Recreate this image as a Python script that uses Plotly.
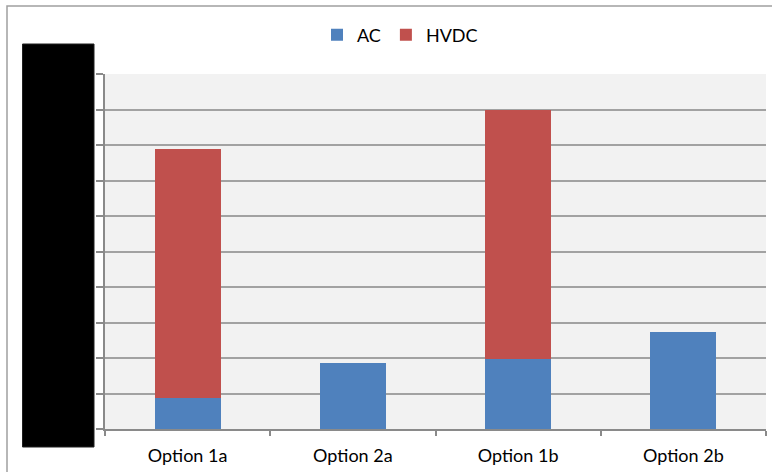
import plotly.graph_objects as go

# Network reinforcement options and their line lengths split by technology
options = ["Option 1a", "Option 2a", "Option 1b", "Option 2b"]
ac_values = [0.885, 1.86, 1.98, 2.73]
hvdc_values = [7.0, 0.0, 7.0, 0.0]

AC_COLOR = "#4F81BD"
HVDC_COLOR = "#C0504D"
GRID_COLOR = "#A2A2A2"
AXIS_COLOR = "#8A8A8A"
FONT = "Lato"

W, H = 772, 472
L, R, T, B = 105, 6, 74, 43
PW, PH = W - L - R, H - T - B


def px_x(x):
    return (x - L) / PW


def px_y(y):
    return (H - B - y) / PH


fig = go.Figure()
fig.add_trace(go.Bar(name="AC", x=options, y=ac_values, marker_color=AC_COLOR,
                     marker_line_width=0))
fig.add_trace(go.Bar(name="HVDC", x=options, y=hvdc_values, marker_color=HVDC_COLOR,
                     marker_line_width=0))

shapes = [
    # chart frame
    dict(type="rect", xref="paper", yref="paper", layer="below",
         x0=px_x(7), x1=px_x(790), y0=px_y(490), y1=px_y(6),
         line=dict(color="#A0A0A0", width=1.5), fillcolor="rgba(0,0,0,0)"),
    # redaction block over the value axis
    dict(type="rect", xref="paper", yref="paper", layer="above",
         x0=px_x(22.5), x1=px_x(94), y0=px_y(447), y1=px_y(44),
         line=dict(color="#202020", width=1), fillcolor="#000000"),
]

fig.update_layout(
    width=W, height=H,
    margin=dict(l=L, r=R, t=T, b=B, pad=0),
    paper_bgcolor="white",
    plot_bgcolor="#F2F2F2",
    barmode="stack",
    bargap=0.6,
    font=dict(family=FONT, size=18, color="#000000"),
    showlegend=True,
    legend=dict(orientation="h", x=px_x(400), xanchor="center", y=px_y(35),
                yanchor="middle", font=dict(family=FONT, size=18),
                itemwidth=30, traceorder="normal", bgcolor="rgba(0,0,0,0)"),
    shapes=shapes,
)

fig.update_xaxes(
    showgrid=False, showline=True, linecolor=AXIS_COLOR, linewidth=2,
    ticks="outside", tickson="boundaries", ticklen=5, tickcolor=AXIS_COLOR,
    tickwidth=1.5, ticklabelstandoff=9, tickfont=dict(family=FONT, size=18),
)
fig.update_yaxes(
    range=[0, 10], dtick=1, showgrid=True, gridcolor=GRID_COLOR, gridwidth=1.5,
    showline=True, linecolor=AXIS_COLOR, linewidth=2, zeroline=False,
    ticks="outside", ticklen=7, tickcolor=AXIS_COLOR, tickwidth=1.5,
    showticklabels=False,
)

fig.write_html("out.html")
